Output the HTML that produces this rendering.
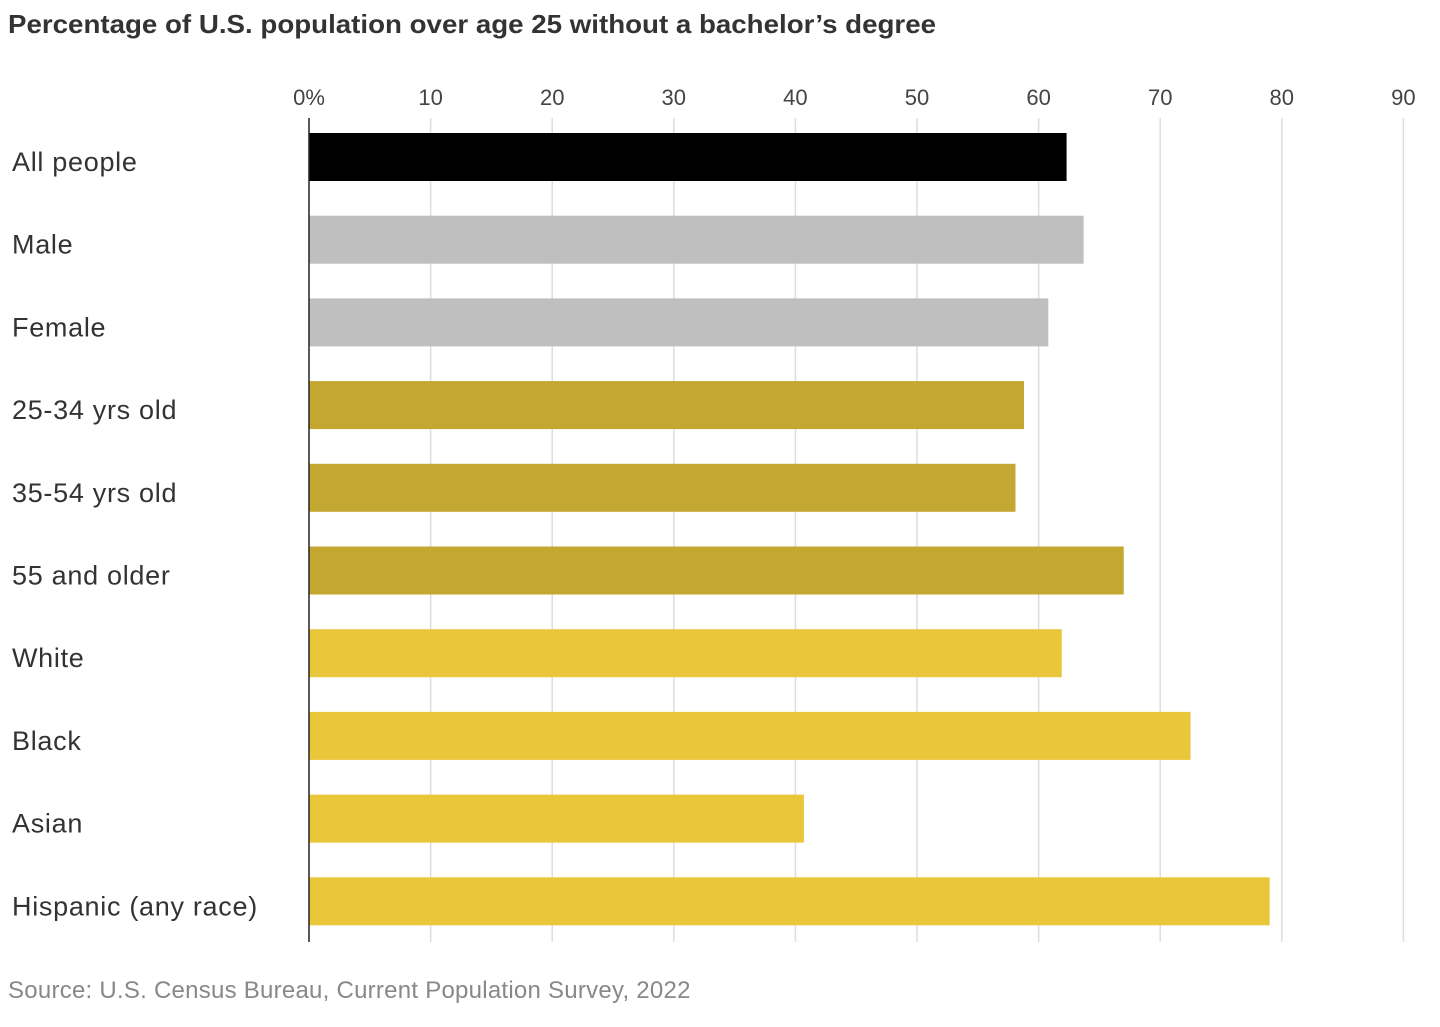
<!DOCTYPE html>
<html><head><meta charset="utf-8"><style>
body{margin:0;background:#fff;width:1440px;height:1022px;overflow:hidden;font-family:"Liberation Sans",sans-serif}
</style></head><body>
<svg width="1440" height="1022" id="c">
<text x="8" y="33" font-size="26" font-weight="bold" fill="#333" textLength="928" lengthAdjust="spacingAndGlyphs">Percentage of U.S. population over age 25 without a bachelor’s degree</text>
<text x="8" y="998" font-size="24" fill="#888" style="letter-spacing:0.25px">Source: U.S. Census Bureau, Current Population Survey, 2022</text>
</svg>
<script>
const categories=["All people","Male","Female","25-34 yrs old","35-54 yrs old","55 and older","White","Black","Asian","Hispanic (any race)"];
const values=[62.3,63.7,60.8,58.8,58.1,67.0,61.9,72.5,40.7,79.0];
const groups=["all","sex","sex","age","age","age","race","race","race","race"];
const ticks=[0,10,20,30,40,50,60,70,80,90];
const tickLabels=["0%","10","20","30","40","50","60","70","80","90"];
const colors={all:"#000",sex:"#bfbfbf",age:"#c4a731",race:"#eac63b"};
const svg=document.getElementById('c');const NS="http://www.w3.org/2000/svg";
const x=v=>309+v*12.16;
const y=i=>133+i*82.7;
function mk(t,a){const e=document.createElementNS(NS,t);for(const k in a)e.setAttribute(k,a[k]);svg.appendChild(e);return e;}
ticks.forEach((t,i)=>{
 if(i>0){const l=mk('line',{x1:x(t),x2:x(t),y1:118,y2:942,stroke:'#ddd','stroke-width':1.5});
 
 }
 const tx=mk('text',{x:x(t),y:105,'font-size':22,fill:'#444','text-anchor':'middle'});tx.textContent=tickLabels[i];
 
 
});
categories.forEach((c,i)=>{
 const r=mk('rect',{x:x(0),y:y(i),width:x(values[i])-x(0),height:48,fill:colors[groups[i]]});
 
 
 const t=mk('text',{x:12,y:y(i)+38,'font-size':27,fill:'#333',style:'letter-spacing:0.7px'});t.textContent=c;
 
 
});
const ax=mk('line',{x1:309,x2:309,y1:118,y2:942,stroke:'#222','stroke-width':1.5});


</script>
</body></html>
